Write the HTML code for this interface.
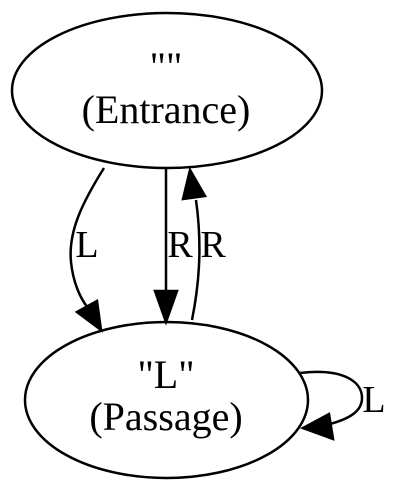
<!DOCTYPE html>
<html><head><meta charset="utf-8"><style>
html,body{margin:0;padding:0;background:#fff;}
svg{display:block;}
text{font-family:"Liberation Serif",serif;fill:#000;}
</style></head><body>
<svg width="400" height="492" viewBox="0 0 400 492">
<g>
<ellipse cx="167" cy="90.5" rx="155" ry="77.5" fill="none" stroke="#000" stroke-width="2.5"/>
<text x="166" y="80" font-size="40" text-anchor="middle">""</text>
<text x="166" y="123" font-size="40" text-anchor="middle">(Entrance)</text>
</g>
<g>
<ellipse cx="166.5" cy="400" rx="141.5" ry="78" fill="none" stroke="#000" stroke-width="2.5"/>
<text x="166" y="388" font-size="40" text-anchor="middle">"L"</text>
<text x="166" y="430" font-size="40" text-anchor="middle">(Passage)</text>
</g>
<g stroke="#000" stroke-width="2.5">
<path d="M104,168 C82,203 68,232 71,262 C73,282 80,298 88,308" fill="none"/>
<polygon points="77,312 97,301 101,330" fill="#000"/>
</g>
<text x="87" y="257" font-size="38" text-anchor="middle">L</text>
<g stroke="#000" stroke-width="2.5">
<line x1="166" y1="169" x2="166" y2="292"/>
<polygon points="155,291 177,291 166,322" fill="#000"/>
</g>
<text x="180" y="257" font-size="38" text-anchor="middle">R</text>
<g stroke="#000" stroke-width="2.5">
<path d="M192,320 C198,290 203,250 196,200" fill="none"/>
<polygon points="183,199 205,196 190,170" fill="#000"/>
</g>
<text x="213" y="257" font-size="38" text-anchor="middle">R</text>
<g stroke="#000" stroke-width="2.5">
<path d="M300,373 C340,368 362,380 362,398 C362,410 352,418 330,424" fill="none"/>
<polygon points="329,414 333,439 303,428" fill="#000"/>
</g>
<text x="374" y="412" font-size="38" text-anchor="middle">L</text>
</svg>
</body></html>
